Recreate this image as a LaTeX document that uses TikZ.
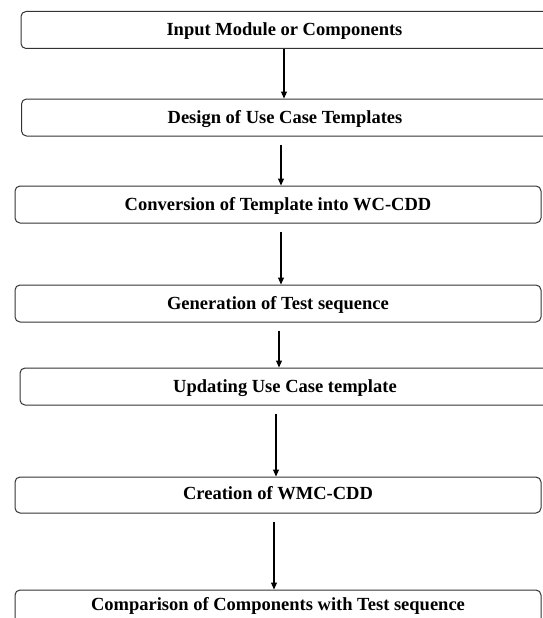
\documentclass[tikz,border=0pt]{standalone}
\usepackage{fontspec}
\setmainfont{Liberation Serif}
\usetikzlibrary{arrows.meta}
\begin{document}
\begin{tikzpicture}[x=1pt,y=-1pt,
  stepbox/.style={draw=black!80,line width=1pt,rounded corners=5pt,rectangle,
    minimum width=527pt,minimum height=37pt,inner sep=0pt,
    text height=13pt,text depth=1pt,
    font=\fontsize{18.5}{20}\selectfont\bfseries},
  flow/.style={draw=black,line width=1.1pt,-{Triangle[length=7pt,width=6pt]}},
  gap/.style={shorten <=8pt}]
\useasboundingbox (0,0) rectangle (542,618);
\node[stepbox] (b1) at (284.5,30) {Input Module or Components};
\node[stepbox] (b2) at (285,117.5) {Design of Use Case Templates};
\node[stepbox,minimum width=526pt] (b3) at (278,204.5) {Conversion of Template into WC-CDD};
\node[stepbox,minimum width=526pt] (b4) at (278,303.5) {Generation of Test sequence};
\node[stepbox,minimum width=530pt] (b5) at (285,386.5) {Updating Use Case template};
\node[stepbox,minimum width=526pt,minimum height=36pt] (b6) at (278,495) {\raisebox{2pt}{Creation of WMC-CDD}};
\node[stepbox,minimum width=526pt] (b7) at (278,608.5) {\raisebox{4.5pt}{Comparison of Components with Test sequence}};
\coordinate (x1) at (284,0);
\coordinate (x2) at (281,0);
\coordinate (x3) at (281,0);
\coordinate (x4) at (279,0);
\coordinate (x5) at (276,0);
\coordinate (x6) at (274,0);
\draw[flow] (b1.south -| x1) -- (b2.north -| x1);
\draw[flow,gap] (b2.south -| x2) -- (b3.north -| x2);
\draw[flow,gap] (b3.south -| x3) -- (b4.north -| x3);
\draw[flow,gap] (b4.south -| x4) -- (b5.north -| x4);
\draw[flow,gap] (b5.south -| x5) -- (b6.north -| x5);
\draw[flow,gap] (b6.south -| x6) -- (b7.north -| x6);
\end{tikzpicture}
\end{document}
